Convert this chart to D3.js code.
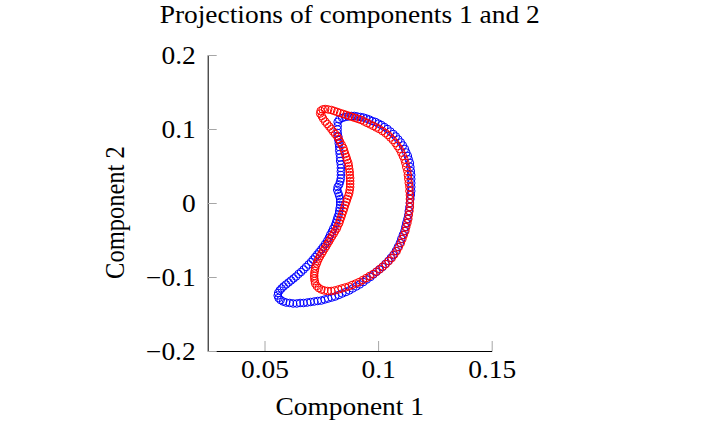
<!DOCTYPE html>
<html>
<head>
<meta charset="utf-8">
<script src="https://cdn.jsdelivr.net/npm/d3@7"></script>
<style>
  body { margin: 0; background: #fff; }
  svg { display: block; }
</style>
</head>
<body>
<script>
// Puntos (proyección sobre las componentes 1 y 2)
const blueX = [0.0822, 0.0829, 0.0842, 0.0855, 0.0869, 0.0882, 0.0895, 0.0908, 0.0922, 0.0935,
  0.0948, 0.0961, 0.0974, 0.0988, 0.1001, 0.1014, 0.1027, 0.1041, 0.1054, 0.1067,
  0.1078, 0.1089, 0.1100, 0.1109, 0.1118, 0.1124, 0.1131, 0.1135, 0.1140, 0.1142,
  0.1144, 0.1146, 0.1146, 0.1146, 0.1146, 0.1146, 0.1144, 0.1142, 0.1140, 0.1138,
  0.1135, 0.1133, 0.1129, 0.1124, 0.1120, 0.1116, 0.1109, 0.1102, 0.1096, 0.1087,
  0.1078, 0.1067, 0.1056, 0.1045, 0.1032, 0.1019, 0.1005, 0.0992, 0.0979, 0.0966,
  0.0950, 0.0935, 0.0919, 0.0904, 0.0888, 0.0873, 0.0858, 0.0842, 0.0827, 0.0811,
  0.0796, 0.0780, 0.0765, 0.0750, 0.0734, 0.0719, 0.0703, 0.0688, 0.0672, 0.0657,
  0.0642, 0.0626, 0.0611, 0.0595, 0.0582, 0.0571, 0.0562, 0.0558, 0.0560, 0.0567,
  0.0575, 0.0584, 0.0595, 0.0606, 0.0617, 0.0628, 0.0639, 0.0650, 0.0661, 0.0672,
  0.0683, 0.0694, 0.0705, 0.0714, 0.0723, 0.0732, 0.0741, 0.0750, 0.0758, 0.0767,
  0.0776, 0.0783, 0.0789, 0.0796, 0.0802, 0.0809, 0.0814, 0.0818, 0.0822, 0.0827,
  0.0829, 0.0831, 0.0833, 0.0833, 0.0833, 0.0829, 0.0825, 0.0820, 0.0822, 0.0829,
  0.0833, 0.0836, 0.0836, 0.0836, 0.0836, 0.0836, 0.0833, 0.0833, 0.0831, 0.0829,
  0.0829, 0.0827, 0.0825, 0.0825, 0.0822, 0.0822, 0.0822];
const blueY = [0.1095, 0.1128, 0.1149, 0.1162, 0.1169, 0.1176, 0.1176, 0.1169, 0.1162, 0.1155,
  0.1142, 0.1128, 0.1108, 0.1095, 0.1074, 0.1054, 0.1027, 0.1000, 0.0966, 0.0932,
  0.0899, 0.0858, 0.0818, 0.0777, 0.0730, 0.0682, 0.0635, 0.0588, 0.0541, 0.0486,
  0.0432, 0.0378, 0.0324, 0.0270, 0.0216, 0.0162, 0.0108, 0.0054, 0.0000, -0.0054,
  -0.0108, -0.0162, -0.0216, -0.0270, -0.0324, -0.0378, -0.0432, -0.0486, -0.0541, -0.0595,
  -0.0649, -0.0703, -0.0743, -0.0784, -0.0824, -0.0865, -0.0899, -0.0932, -0.0966, -0.1000,
  -0.1034, -0.1068, -0.1101, -0.1128, -0.1155, -0.1182, -0.1203, -0.1223, -0.1243, -0.1264,
  -0.1277, -0.1291, -0.1304, -0.1318, -0.1324, -0.1331, -0.1338, -0.1345, -0.1351, -0.1351,
  -0.1358, -0.1358, -0.1351, -0.1345, -0.1331, -0.1311, -0.1284, -0.1250, -0.1216, -0.1182,
  -0.1155, -0.1128, -0.1101, -0.1074, -0.1047, -0.1020, -0.0993, -0.0959, -0.0932, -0.0899,
  -0.0865, -0.0831, -0.0797, -0.0764, -0.0730, -0.0696, -0.0662, -0.0628, -0.0595, -0.0554,
  -0.0514, -0.0473, -0.0432, -0.0392, -0.0351, -0.0311, -0.0270, -0.0230, -0.0189, -0.0149,
  -0.0108, -0.0068, -0.0027, 0.0014, 0.0054, 0.0095, 0.0135, 0.0176, 0.0216, 0.0250,
  0.0291, 0.0331, 0.0378, 0.0426, 0.0473, 0.0520, 0.0568, 0.0615, 0.0662, 0.0709,
  0.0757, 0.0804, 0.0851, 0.0899, 0.0946, 0.0993, 0.1041];

const redX = [0.0752, 0.0745, 0.0747, 0.0756, 0.0767, 0.0780, 0.0794, 0.0807, 0.0820, 0.0833,
  0.0847, 0.0860, 0.0873, 0.0886, 0.0899, 0.0913, 0.0926, 0.0939, 0.0952, 0.0966,
  0.0979, 0.0992, 0.1005, 0.1019, 0.1032, 0.1043, 0.1054, 0.1065, 0.1076, 0.1085,
  0.1094, 0.1102, 0.1109, 0.1116, 0.1120, 0.1124, 0.1129, 0.1131, 0.1133, 0.1135,
  0.1138, 0.1138, 0.1140, 0.1140, 0.1140, 0.1140, 0.1138, 0.1135, 0.1133, 0.1129,
  0.1124, 0.1120, 0.1113, 0.1107, 0.1100, 0.1091, 0.1082, 0.1071, 0.1060, 0.1047,
  0.1034, 0.1021, 0.1008, 0.0994, 0.0979, 0.0963, 0.0948, 0.0933, 0.0917, 0.0902,
  0.0886, 0.0871, 0.0855, 0.0840, 0.0825, 0.0809, 0.0794, 0.0778, 0.0763, 0.0750,
  0.0739, 0.0730, 0.0723, 0.0721, 0.0719, 0.0719, 0.0719, 0.0721, 0.0723, 0.0725,
  0.0730, 0.0734, 0.0739, 0.0745, 0.0752, 0.0758, 0.0765, 0.0772, 0.0778, 0.0785,
  0.0791, 0.0798, 0.0805, 0.0811, 0.0818, 0.0822, 0.0829, 0.0833, 0.0838, 0.0842,
  0.0847, 0.0851, 0.0855, 0.0860, 0.0864, 0.0869, 0.0873, 0.0875, 0.0877, 0.0877,
  0.0877, 0.0877, 0.0875, 0.0875, 0.0873, 0.0871, 0.0869, 0.0864, 0.0860, 0.0855,
  0.0851, 0.0847, 0.0840, 0.0833, 0.0827, 0.0820, 0.0811, 0.0802, 0.0794, 0.0785,
  0.0776, 0.0767, 0.0758];
const redY = [0.1176, 0.1209, 0.1243, 0.1264, 0.1270, 0.1264, 0.1257, 0.1243, 0.1230, 0.1216,
  0.1203, 0.1189, 0.1176, 0.1162, 0.1149, 0.1135, 0.1122, 0.1101, 0.1081, 0.1061,
  0.1041, 0.1020, 0.1000, 0.0973, 0.0946, 0.0919, 0.0885, 0.0851, 0.0811, 0.0770,
  0.0730, 0.0682, 0.0635, 0.0588, 0.0541, 0.0486, 0.0432, 0.0378, 0.0324, 0.0270,
  0.0216, 0.0162, 0.0108, 0.0054, 0.0000, -0.0054, -0.0108, -0.0162, -0.0216, -0.0270,
  -0.0324, -0.0378, -0.0432, -0.0486, -0.0541, -0.0595, -0.0649, -0.0696, -0.0743, -0.0784,
  -0.0824, -0.0858, -0.0892, -0.0926, -0.0959, -0.0986, -0.1014, -0.1041, -0.1068, -0.1088,
  -0.1108, -0.1128, -0.1142, -0.1155, -0.1169, -0.1182, -0.1189, -0.1189, -0.1182, -0.1169,
  -0.1149, -0.1122, -0.1088, -0.1054, -0.1020, -0.0986, -0.0953, -0.0919, -0.0885, -0.0851,
  -0.0818, -0.0784, -0.0750, -0.0716, -0.0682, -0.0649, -0.0615, -0.0581, -0.0547, -0.0514,
  -0.0480, -0.0446, -0.0412, -0.0378, -0.0345, -0.0311, -0.0270, -0.0230, -0.0189, -0.0149,
  -0.0108, -0.0068, -0.0027, 0.0014, 0.0054, 0.0095, 0.0135, 0.0176, 0.0216, 0.0257,
  0.0297, 0.0338, 0.0378, 0.0419, 0.0459, 0.0500, 0.0541, 0.0581, 0.0622, 0.0662,
  0.0703, 0.0743, 0.0784, 0.0824, 0.0865, 0.0899, 0.0932, 0.0966, 0.1000, 0.1034,
  0.1068, 0.1101, 0.1142];

// Ticks y textos
const xTicks = [0.05, 0.1, 0.15];
const xTickLabels = ["0.05", "0.1", "0.15"];
const yTicks = [-0.2, -0.1, 0, 0.1, 0.2];
const yTickLabels = ["\u22120.2", "\u22120.1", "0", "0.1", "0.2"];
const titulo = "Projections of components 1 and 2";
const etiquetaX = "Component 1";
const etiquetaY = "Component 2";

// Configuración del gráfico
const width = 713;
const height = 425;
const fuente = "'Liberation Serif', 'Times New Roman', serif";
const tamFuente = "24.5px";
const estirar = 1.12; // el original está algo ensanchado en horizontal

const svg = d3.select("body")
    .append("svg")
    .attr("width", width)
    .attr("height", height);

const xScale = d3.scaleLinear()
    .domain([0.025, 0.15])
    .range([207.7, 491.7]);

const yScale = d3.scaleLinear()
    .domain([-0.2, 0.2])
    .range([351, 55]);

// Ejes (ticks hacia dentro, en gris)
const ejeX = d3.axisBottom(xScale)
    .tickValues(xTicks)
    .tickFormat((d, i) => xTickLabels[i])
    .tickSizeInner(-10)
    .tickSizeOuter(0)
    .tickPadding(11);

const ejeY = d3.axisLeft(yScale)
    .tickValues(yTicks)
    .tickFormat((d, i) => yTickLabels[i])
    .tickSizeInner(-9)
    .tickSizeOuter(0)
    .tickPadding(12);

const gx = svg.append("g")
    .attr("transform", "translate(0," + yScale(-0.2) + ")")
    .call(ejeX);

const gy = svg.append("g")
    .attr("transform", "translate(" + xScale(0.025) + ",0)")
    .call(ejeY);

[gx, gy].forEach(g => {
    g.select(".domain").attr("stroke", "#000").attr("stroke-width", 1);
    g.selectAll(".tick line").attr("stroke", "#a6a6a6").attr("stroke-width", 1);
    g.selectAll(".tick text")
        .attr("fill", "#000")
        .style("font-family", fuente)
        .style("font-size", tamFuente);
});

gx.selectAll(".tick text")
    .attr("y", 10)
    .attr("dy", "0.71em")
    .attr("transform", "scale(" + estirar + ",1)");

gy.selectAll(".tick text")
    .attr("x", -12 / estirar)
    .attr("dy", "0.34em")
    .attr("transform", "scale(" + estirar + ",1)");

// Puntos (círculos sin relleno)
function dibujarSerie(xs, ys, color) {
    svg.append("g")
        .selectAll("circle")
        .data(xs.map((x, i) => ({ x: x, y: ys[i] })))
        .enter()
        .append("circle")
        .attr("cx", d => xScale(d.x))
        .attr("cy", d => yScale(d.y))
        .attr("r", 3.8)
        .attr("fill", "none")
        .attr("stroke", color)
        .attr("stroke-width", 1);
}

dibujarSerie(blueX, blueY, "#0000ff");
dibujarSerie(redX, redY, "#ff0000");

// Textos
const centroX = (xScale(0.025) + xScale(0.15)) / 2;

svg.append("text")
    .attr("transform", "translate(" + centroX + ",23) scale(" + estirar + ",1)")
    .attr("text-anchor", "middle")
    .style("font-family", fuente)
    .style("font-size", tamFuente)
    .text(titulo);

svg.append("text")
    .attr("transform", "translate(" + centroX + ",415) scale(" + estirar + ",1)")
    .attr("text-anchor", "middle")
    .style("font-family", fuente)
    .style("font-size", tamFuente)
    .text(etiquetaX);

svg.append("text")
    .attr("transform", "translate(124," + yScale(-0.013) + ") scale(" + estirar + ",1) rotate(-90)")
    .attr("text-anchor", "middle")
    .style("font-family", fuente)
    .style("font-size", tamFuente)
    .text(etiquetaY);
</script>
</body>
</html>
